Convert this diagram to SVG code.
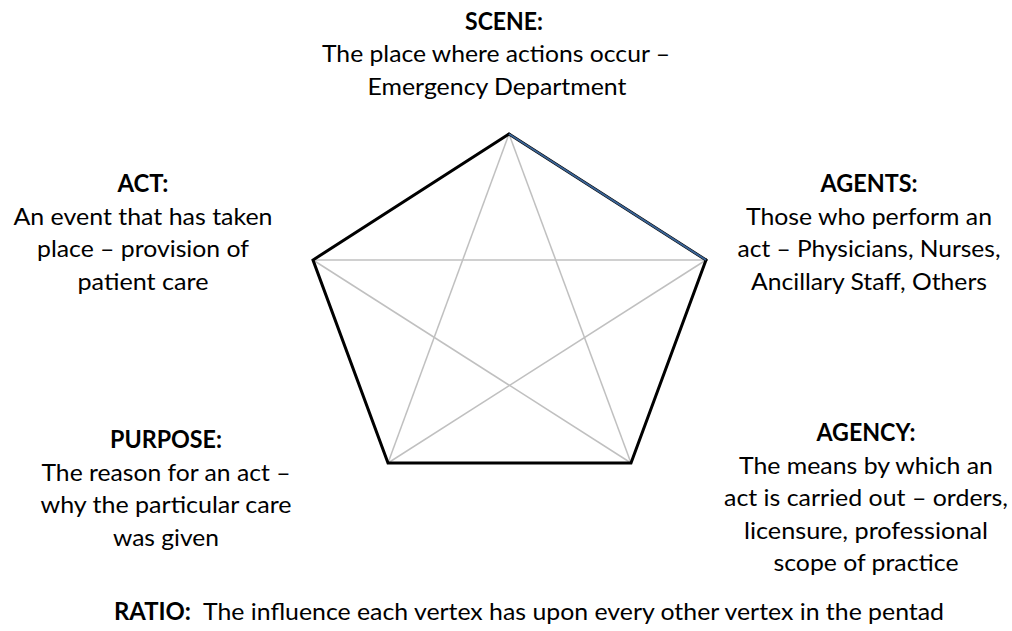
<svg xmlns="http://www.w3.org/2000/svg" width="1012" height="631" viewBox="0 0 1012 631">
<style>
text{font-family:Lato,"Liberation Sans",sans-serif;font-size:24px;fill:#000;text-anchor:middle}
.b{font-weight:bold}
.diag{stroke:#c0c0c0;stroke-width:1.5;fill:none}
.edge{stroke:#000;stroke-width:3;fill:none;stroke-linecap:round}
.blue{stroke:#3b6496;stroke-width:2;fill:none}
</style>
<rect width="1012" height="631" fill="#fff"/>
<g id="connectors">
<line class="diag" x1="509" y1="134" x2="388" y2="463"/>
<line class="diag" x1="509" y1="134" x2="631" y2="463"/>
<line class="diag" x1="313" y1="260" x2="706" y2="260"/>
<line class="diag" x1="313" y1="260" x2="631" y2="463"/>
<line class="diag" x1="706" y1="260" x2="388" y2="463"/>
<polyline class="edge" points="509,134 313,260 388,463 631,463 706,260"/>
<line class="edge" x1="509" y1="134" x2="706" y2="260"/>
<line class="blue" x1="509" y1="134" x2="706" y2="260"/>
</g>
<g id="scene">
<text class="b" x="504" y="29.5" textLength="78" lengthAdjust="spacingAndGlyphs">SCENE:</text>
<text x="496" y="62" textLength="348" lengthAdjust="spacingAndGlyphs">The place where actions occur –</text>
<text x="497" y="94.5" textLength="259" lengthAdjust="spacingAndGlyphs">Emergency Department</text>
</g>
<g id="act">
<text class="b" x="143" y="192" textLength="51" lengthAdjust="spacingAndGlyphs">ACT:</text>
<text x="143" y="224.5" textLength="259" lengthAdjust="spacingAndGlyphs">An event that has taken</text>
<text x="143" y="257" textLength="212" lengthAdjust="spacingAndGlyphs">place – provision of</text>
<text x="143" y="289.5" textLength="131" lengthAdjust="spacingAndGlyphs">patient care</text>
</g>
<g id="agents">
<text class="b" x="869" y="192" textLength="97" lengthAdjust="spacingAndGlyphs">AGENTS:</text>
<text x="869" y="224.5" textLength="246" lengthAdjust="spacingAndGlyphs">Those who perform an</text>
<text x="869" y="257" textLength="263" lengthAdjust="spacingAndGlyphs">act – Physicians, Nurses,</text>
<text x="869" y="289.5" textLength="236" lengthAdjust="spacingAndGlyphs">Ancillary Staff, Others</text>
</g>
<g id="purpose">
<text class="b" x="166" y="448" textLength="112" lengthAdjust="spacingAndGlyphs">PURPOSE:</text>
<text x="166" y="480.5" textLength="249" lengthAdjust="spacingAndGlyphs">The reason for an act –</text>
<text x="166" y="513" textLength="251" lengthAdjust="spacingAndGlyphs">why the particular care</text>
<text x="166" y="545.5" textLength="106" lengthAdjust="spacingAndGlyphs">was given</text>
</g>
<g id="agency">
<text class="b" x="866" y="441" textLength="99" lengthAdjust="spacingAndGlyphs">AGENCY:</text>
<text x="866" y="473.5" textLength="254" lengthAdjust="spacingAndGlyphs">The means by which an</text>
<text x="866" y="506" textLength="284" lengthAdjust="spacingAndGlyphs">act is carried out – orders,</text>
<text x="866" y="538.5" textLength="244" lengthAdjust="spacingAndGlyphs">licensure, professional</text>
<text x="866" y="571" textLength="185" lengthAdjust="spacingAndGlyphs">scope of practice</text>
</g>
<g id="ratio">
<text class="b" x="114" y="620" style="text-anchor:start" textLength="77" lengthAdjust="spacingAndGlyphs">RATIO:</text>
<text x="203" y="620" style="text-anchor:start" textLength="741" lengthAdjust="spacingAndGlyphs">The influence each vertex has upon every other vertex in the pentad</text>
</g>
</svg>
